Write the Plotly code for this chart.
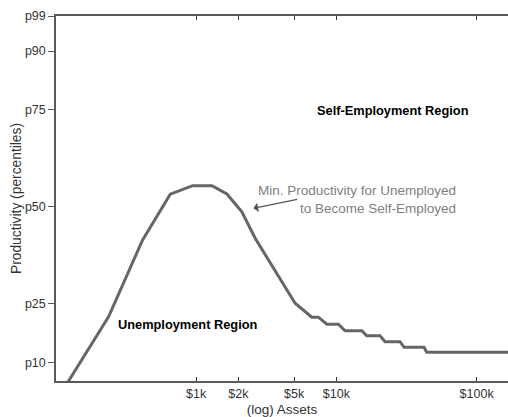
import plotly.graph_objects as go

# Data
assets = [122, 237, 414, 653, 944, 1294, 1656, 2117, 2634, 5077, 6678, 7440, 8542,
          10335, 11535, 15170, 16470, 20490, 22240, 28440, 30380, 42200, 44050, 200000]
productivity = [5.0, 21.7, 41.4, 53.2, 55.4, 55.4, 53.25, 48.7, 41.9, 25.2, 21.6, 21.6, 19.8,
                19.8, 18.1, 18.1, 16.8, 16.8, 15.3, 15.3, 13.85, 13.85, 12.6, 12.6]

x_tickvals = [1000, 2000, 5000, 10000, 100000]
x_ticktext = ["$1k", "$2k", "$5k", "$10k", "$100k"]
y_tickvals = [10, 25, 50, 75, 90, 99]
y_ticktext = ["p10", "p25", "p50", "p75", "p90", "p99"]

FONT = "Liberation Sans, Arial, Helvetica, sans-serif"
AXIS_COLOR = "#5a5a5a"

fig = go.Figure()
fig.add_trace(go.Scatter(
    x=assets, y=productivity, mode="lines",
    line=dict(color="#666666", width=3),
    hoverinfo="skip", showlegend=False,
))

fig.update_layout(
    width=508, height=417,
    margin=dict(l=56, r=0, t=16, b=36),
    paper_bgcolor="white", plot_bgcolor="white",
    font=dict(family=FONT, size=12.5, color="#333333"),
    showlegend=False,
    xaxis=dict(
        type="log", range=[2.0, 5.224],
        tickvals=x_tickvals, ticktext=x_ticktext,
        ticks="inside", ticklen=4, tickwidth=1, tickcolor="#333333",
        showline=True, linecolor=AXIS_COLOR, linewidth=1.5, mirror="ticks",
        showgrid=False, zeroline=False,
        tickfont=dict(size=12.5, color="#333333"),
        title=dict(text="(log) Assets", font=dict(size=13.5, color="#333333"), standoff=6),
        automargin=False,
    ),
    yaxis=dict(
        range=[5.2, 99],
        tickvals=y_tickvals, ticktext=y_ticktext,
        ticks="outside", ticklen=6, tickwidth=1, tickcolor=AXIS_COLOR,
        showline=True, linecolor=AXIS_COLOR, linewidth=1.5, mirror=False,
        showgrid=False, zeroline=False,
        tickfont=dict(size=12.5, color="#333333"),
        title=dict(text="Productivity (percentiles)", font=dict(size=13.8, color="#333333"), standoff=0),
        automargin=False,
    ),
)

# Region labels
fig.add_annotation(x=4.404, y=74.6, xref="x", yref="y", text="<b>Self-Employment Region</b>",
                   showarrow=False, font=dict(size=12.8, color="black", family=FONT))
fig.add_annotation(x=2.939, y=19.8, xref="x", yref="y", text="<b>Unemployment Region</b>",
                   showarrow=False, font=dict(size=12.8, color="black", family=FONT))

# Arrow pointing at the threshold curve (tail given in data coordinates)
fig.add_annotation(x=3.408, y=49.6, xref="x", yref="y", text=" ",
                   showarrow=True, arrowhead=1, arrowsize=1.3, arrowwidth=1.2,
                   arrowcolor="#555555", axref="x", ayref="y", ax=3.735, ay=52.0,
                   standoff=0, startstandoff=0, font=dict(size=2))
fig.add_annotation(x=4.8674, y=51.97, xref="x", yref="y",
                   text="Min. Productivity for Unemployed<br>to Become Self-Employed",
                   showarrow=False, xanchor="right", yanchor="middle", align="right",
                   font=dict(size=13.5, color="#808080", family=FONT))

fig.write_html("out.html", config={"displayModeBar": False},
               post_script="document.body.style.margin='0';")
